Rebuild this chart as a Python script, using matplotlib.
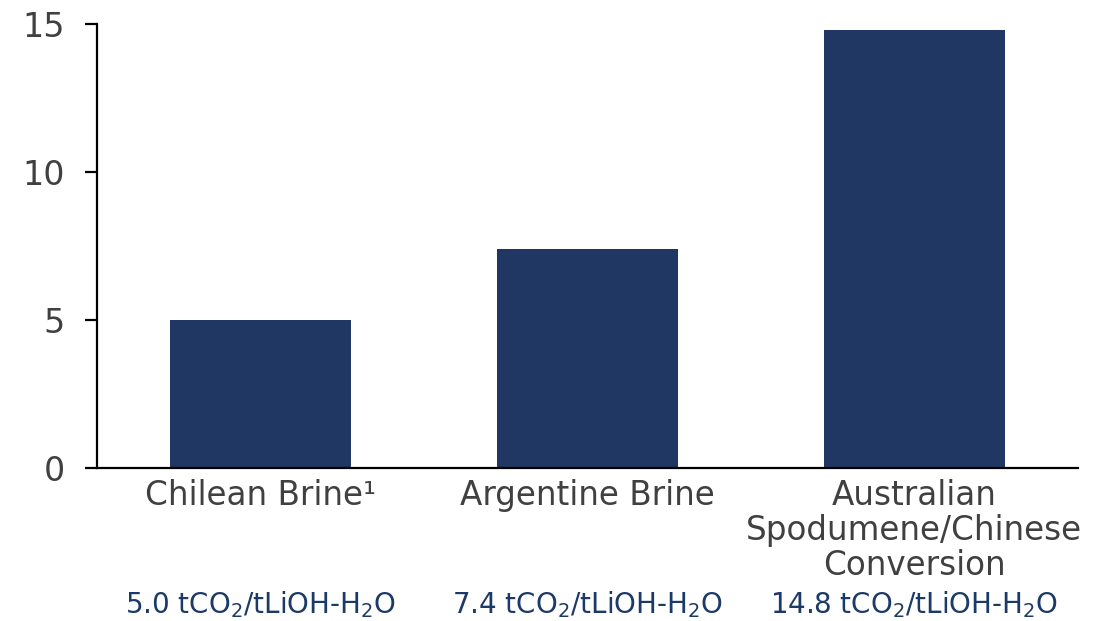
import matplotlib.pyplot as plt
import matplotlib.transforms as mtransforms
import numpy as np

plt.rcParams['font.family'] = ['DejaVu Sans']
plt.rcParams['mathtext.fontset'] = 'dejavusans'

categories = ['Chilean Brine\u00b9', 'Argentine Brine', 'Australian\nSpodumene/Chinese\nConversion']
intensity = [5.0, 7.4, 14.8]   # tCO2 per t LiOH-H2O

bar_color = '#213763'
text_grey = '#404040'
label_blue = '#1c3a68'

fig = plt.figure(figsize=(11.17, 6.21), dpi=100)
ax = fig.add_axes([0.0868, 0.2464, 0.8782, 0.715])

pos = np.arange(len(categories))
ax.bar(pos, intensity, width=0.555, color=bar_color, zorder=2)

ax.set_xlim(-0.5, 2.5)
ax.set_ylim(0, 15)
ax.set_yticks([0, 5, 10, 15])
ax.set_xticks(pos)
ax.set_xticklabels(categories, linespacing=1.08)

for s in ['top', 'right']:
    ax.spines[s].set_visible(False)
for s in ['left', 'bottom']:
    ax.spines[s].set_linewidth(1.6)
    ax.spines[s].set_color('black')

ax.tick_params(axis='y', length=9, width=1.6, pad=14, labelsize=24, labelcolor=text_grey)
ax.tick_params(axis='x', length=0, pad=8, labelsize=23.5, labelcolor=text_grey)

# emission intensity under each category
trans = mtransforms.blended_transform_factory(ax.transData, fig.transFigure)
for x, v in zip(pos, intensity):
    ax.text(x, 0.026, f'{v:.1f} tCO$_2$/tLiOH-H$_2$O', transform=trans,
            ha='center', va='center', fontsize=20, color=label_blue)

fig.savefig('out.png', dpi=100)
